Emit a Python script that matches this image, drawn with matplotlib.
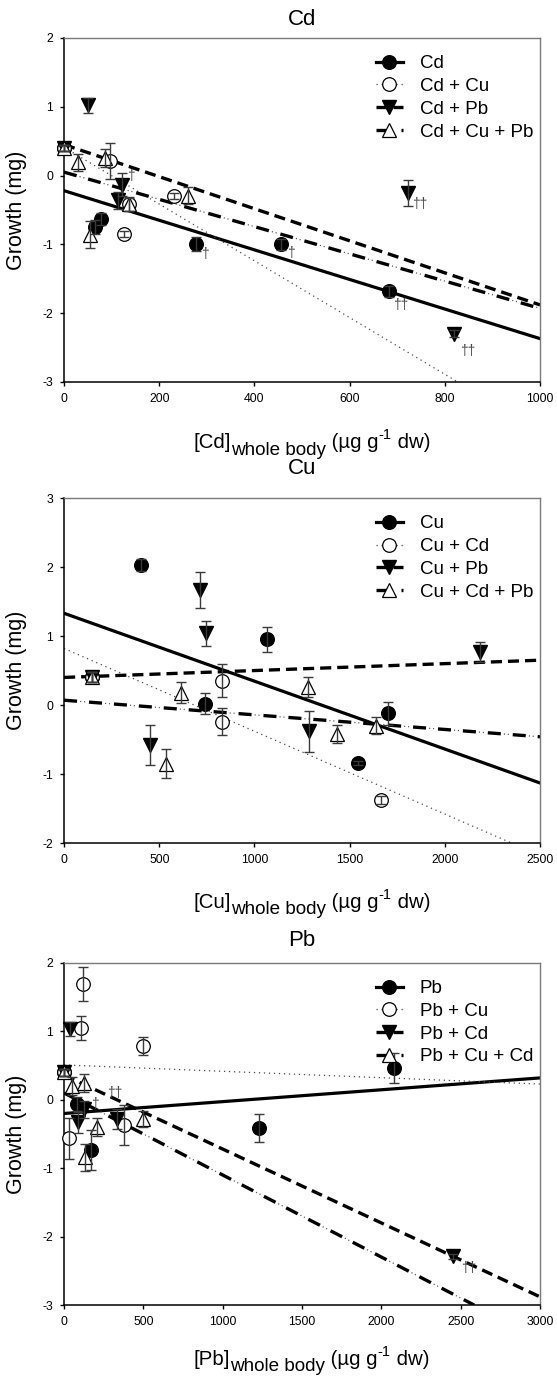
import matplotlib
matplotlib.use("Agg")
import matplotlib.pyplot as plt
from matplotlib.lines import Line2D

plt.rcParams['font.family'] = ['Liberation Sans', 'DejaVu Sans']
plt.rcParams['axes.unicode_minus'] = False
plt.rcParams['lines.scale_dashes'] = False

# ---------------- Cd panel ----------------
cd_labels = ['Cd', 'Cd + Cu', 'Cd + Pb', 'Cd + Cu + Pb']
cd_x1 = [0, 65, 78, 277, 456, 682]
cd_y1 = [0.40, -0.75, -0.63, -1.00, -1.00, -1.68]
cd_e1 = [0.05, 0.10, 0.09, 0.10, 0.08, 0.08]
cd_x2 = [0, 97, 125, 137, 230]
cd_y2 = [0.40, 0.21, -0.85, -0.41, -0.30]
cd_e2 = [0.05, 0.26, 0.04, 0.10, 0.04]
cd_x3 = [0, 50, 121, 114, 723, 820]
cd_y3 = [0.40, 1.02, -0.13, -0.36, -0.25, -2.30]
cd_e3 = [0.05, 0.11, 0.16, 0.12, 0.19, 0.05]
cd_x4 = [0, 29, 85, 55, 137, 261]
cd_y4 = [0.40, 0.19, 0.25, -0.86, -0.42, -0.29]
cd_e4 = [0.05, 0.13, 0.13, 0.20, 0.10, 0.12]
cd_fit_x1, cd_fit_y1 = [0, 1000], [-0.22, -2.37]
cd_fit_x2, cd_fit_y2 = [0, 827], [0.41, -3.0]
cd_fit_x3, cd_fit_y3 = [0, 1000], [0.45, -1.88]
cd_fit_x4, cd_fit_y4 = [0, 1000], [0.05, -1.93]
cd_dag_x = [141, 296, 477, 707, 748, 847]
cd_dag_y = [0.0, -1.14, -1.12, -1.88, -0.41, -2.55]
cd_dag_t = ['†', '†', '†', '††', '††', '††']

# ---------------- Cu panel ----------------
cu_labels = ['Cu', 'Cu + Cd', 'Cu + Pb', 'Cu + Cd + Pb']
cu_x1 = [148, 402, 742, 1064, 1543, 1702]
cu_y1 = [0.41, 2.03, 0.02, 0.95, -0.84, -0.12]
cu_e1 = [0.07, 0.09, 0.15, 0.18, 0.03, 0.17]
cu_x2 = [148, 832, 827, 1664]
cu_y2 = [0.41, 0.35, -0.24, -1.38]
cu_e2 = [0.07, 0.24, 0.20, 0.06]
cu_x3 = [148, 714, 748, 452, 1288, 2186]
cu_y3 = [0.41, 1.67, 1.04, -0.58, -0.38, 0.77]
cu_e3 = [0.07, 0.26, 0.18, 0.29, 0.30, 0.14]
cu_x4 = [148, 615, 537, 1281, 1434, 1636]
cu_y4 = [0.41, 0.18, -0.85, 0.26, -0.42, -0.30]
cu_e4 = [0.07, 0.15, 0.21, 0.15, 0.13, 0.12]
cu_fit_x1, cu_fit_y1 = [0, 2500], [1.33, -1.13]
cu_fit_x2, cu_fit_y2 = [0, 2350], [0.82, -2.0]
cu_fit_x3, cu_fit_y3 = [0, 2500], [0.40, 0.65]
cu_fit_x4, cu_fit_y4 = [0, 2500], [0.07, -0.46]

# ---------------- Pb panel ----------------
pb_labels = ['Pb', 'Pb + Cu', 'Pb + Cd', 'Pb + Cu + Cd']
pb_x1 = [0, 83, 168, 1227, 2080]
pb_y1 = [0.40, -0.06, -0.73, -0.41, 0.46]
pb_e1 = [0.05, 0.10, 0.29, 0.20, 0.22]
pb_x2 = [0, 117, 105, 498, 31, 375]
pb_y2 = [0.40, 1.69, 1.05, 0.79, -0.56, -0.37]
pb_e2 = [0.05, 0.25, 0.18, 0.13, 0.30, 0.29]
pb_x3 = [0, 38, 88, 128, 332, 2450]
pb_y3 = [0.40, 1.03, -0.33, -0.14, -0.28, -2.29]
pb_e3 = [0.05, 0.10, 0.15, 0.12, 0.14, 0.04]
pb_x4 = [0, 49, 128, 206, 132, 498]
pb_y4 = [0.40, 0.20, 0.25, -0.40, -0.84, -0.28]
pb_e4 = [0.05, 0.13, 0.13, 0.13, 0.20, 0.12]
pb_fit_x1, pb_fit_y1 = [0, 3000], [-0.20, 0.32]
pb_fit_x2, pb_fit_y2 = [0, 3000], [0.51, 0.23]
pb_fit_x3, pb_fit_y3 = [0, 3000], [0.36, -2.88]
pb_fit_x4, pb_fit_y4 = [0, 2585], [0.10, -3.0]
pb_dag_x = [195, 321, 2551]
pb_dag_y = [-0.06, 0.10, -2.46]
pb_dag_t = ['†', '††', '††']

markers = [
    dict(marker='o', mfc='black', mec='black', ms=9.8),
    dict(marker='o', mfc='white', mec='black', ms=9.8, mew=0.9),
    dict(marker='v', mfc='black', mec='black', ms=10.3),
    dict(marker='^', mfc='white', mec='black', ms=10.3, mew=0.9),
]
DASHDOT_THICK = (0, (9.4, 8.6))
DASHDOT_DOTS = (6.4, (0.8, 2.0, 0.8, 14.4))


def draw_fit(ax, i, fx, fy):
    if i == 0:
        ax.plot(fx, fy, color='black', lw=2.3, zorder=2)
    elif i == 1:
        ax.plot(fx, fy, color='#4a4a4a', lw=0.9, ls=(0, (0.9, 2.7)), zorder=2)
    elif i == 2:
        ax.plot(fx, fy, color='black', lw=2.4, ls=(0, (8, 4.3)), zorder=2)
    else:
        ax.plot(fx, fy, color='black', lw=2.4, ls=DASHDOT_THICK, zorder=2)
        ax.plot(fx, fy, color='#555555', lw=0.9, ls=DASHDOT_DOTS, zorder=2)


def legend_handles():
    styles = [dict(lw=2.3, ls='-'), dict(lw=0.9, ls=(0, (0.9, 2.7)), color='#4a4a4a'),
              dict(lw=2.4, ls=(0, (8, 4.3))), dict(lw=2.4, ls=(0, (9.4, 8.6)))]
    hs = []
    for st, mk in zip(styles, markers):
        kw = dict(color='black')
        kw.update(st)
        hs.append(Line2D([], [], **kw, **mk))
    return hs


def xlabel(ax, elem, y):
    t1 = ax.text(0.272, y, '[' + elem + ']', transform=ax.transAxes,
                 fontsize=14.7, ha='left', va='baseline')
    t2 = ax.annotate('whole body', xy=(1, 0), xycoords=t1, xytext=(0, -4.7),
                     textcoords='offset points', fontsize=13.6, va='bottom')
    t3 = ax.annotate(' (µg g', xy=(1, 0), xycoords=t2, xytext=(0, 4.7),
                     textcoords='offset points', fontsize=14.7, va='bottom')
    t4 = ax.annotate('-1', xy=(1, 0), xycoords=t3, xytext=(0, 7.3),
                     textcoords='offset points', fontsize=10.5, va='bottom')
    ax.annotate(' dw)', xy=(1, 0), xycoords=t4, xytext=(0, -7.3),
                textcoords='offset points', fontsize=14.7, va='bottom')


def panel(ax, title, tpad, labels, xs, ys, es, fits, xlim, xstep, ylim,
          xlab_y, dag=None):
    for i, (fx, fy) in enumerate(fits):
        draw_fit(ax, i, fx, fy)
    for i in range(4):
        ax.plot(xs[i], ys[i], ls='none', zorder=3, clip_on=False, **markers[i])
        ax.errorbar(xs[i], ys[i], yerr=es[i], fmt='none', ecolor='#3a3a3a',
                    elinewidth=1, capsize=3.6, capthick=1, zorder=4, clip_on=False)
    if dag:
        for dx, dy, dt in zip(*dag):
            ax.text(dx, dy, dt, fontsize=10, color='#454545',
                    ha='center', va='center', zorder=5)
    ax.set_xlim(*xlim)
    ax.set_ylim(*ylim)
    ax.set_xticks(range(xlim[0], xlim[1] + 1, xstep))
    ax.set_yticks(range(ylim[0], ylim[1] + 1))
    ax.tick_params(direction='out', length=2.9, width=1, labelsize=8.8, pad=5)
    for s in ('left', 'bottom'):
        ax.spines[s].set_linewidth(1.1)
    for s in ('top', 'right'):
        ax.spines[s].set_color('#7a7a7a')
        ax.spines[s].set_linewidth(1.0)
    ax.set_title(title, fontsize=16, pad=tpad)
    ax.set_ylabel('Growth (mg)', fontsize=15.5)
    ax.yaxis.set_label_coords(-0.078, 0.5)
    xlabel(ax, title, xlab_y)
    ax.legend(legend_handles(), labels, loc='upper left',
              bbox_to_anchor=(0.655, 0.95), frameon=False, fontsize=13.5,
              handlelength=1.45, handletextpad=0.9, labelspacing=0.3,
              borderpad=0, borderaxespad=0, numpoints=1)


fig = plt.figure(figsize=(5.57, 13.8), dpi=100)
ax1 = fig.add_axes([0.115, 0.7232, 0.8546, 0.2493])
ax2 = fig.add_axes([0.115, 0.3891, 0.8546, 0.2500])
ax3 = fig.add_axes([0.115, 0.0543, 0.8546, 0.2479])

panel(ax1, 'Cd', 9.5, cd_labels,
      [cd_x1, cd_x2, cd_x3, cd_x4], [cd_y1, cd_y2, cd_y3, cd_y4],
      [cd_e1, cd_e2, cd_e3, cd_e4],
      [(cd_fit_x1, cd_fit_y1), (cd_fit_x2, cd_fit_y2),
       (cd_fit_x3, cd_fit_y3), (cd_fit_x4, cd_fit_y4)],
      (0, 1000), 200, (-3, 2), -0.192, (cd_dag_x, cd_dag_y, cd_dag_t))

panel(ax2, 'Cu', 17.5, cu_labels,
      [cu_x1, cu_x2, cu_x3, cu_x4], [cu_y1, cu_y2, cu_y3, cu_y4],
      [cu_e1, cu_e2, cu_e3, cu_e4],
      [(cu_fit_x1, cu_fit_y1), (cu_fit_x2, cu_fit_y2),
       (cu_fit_x3, cu_fit_y3), (cu_fit_x4, cu_fit_y4)],
      (0, 2500), 500, (-2, 3), -0.188)

panel(ax3, 'Pb', 12.5, pb_labels,
      [pb_x1, pb_x2, pb_x3, pb_x4], [pb_y1, pb_y2, pb_y3, pb_y4],
      [pb_e1, pb_e2, pb_e3, pb_e4],
      [(pb_fit_x1, pb_fit_y1), (pb_fit_x2, pb_fit_y2),
       (pb_fit_x3, pb_fit_y3), (pb_fit_x4, pb_fit_y4)],
      (0, 3000), 500, (-3, 2), -0.175, (pb_dag_x, pb_dag_y, pb_dag_t))

fig.savefig('out.png', dpi=100)
